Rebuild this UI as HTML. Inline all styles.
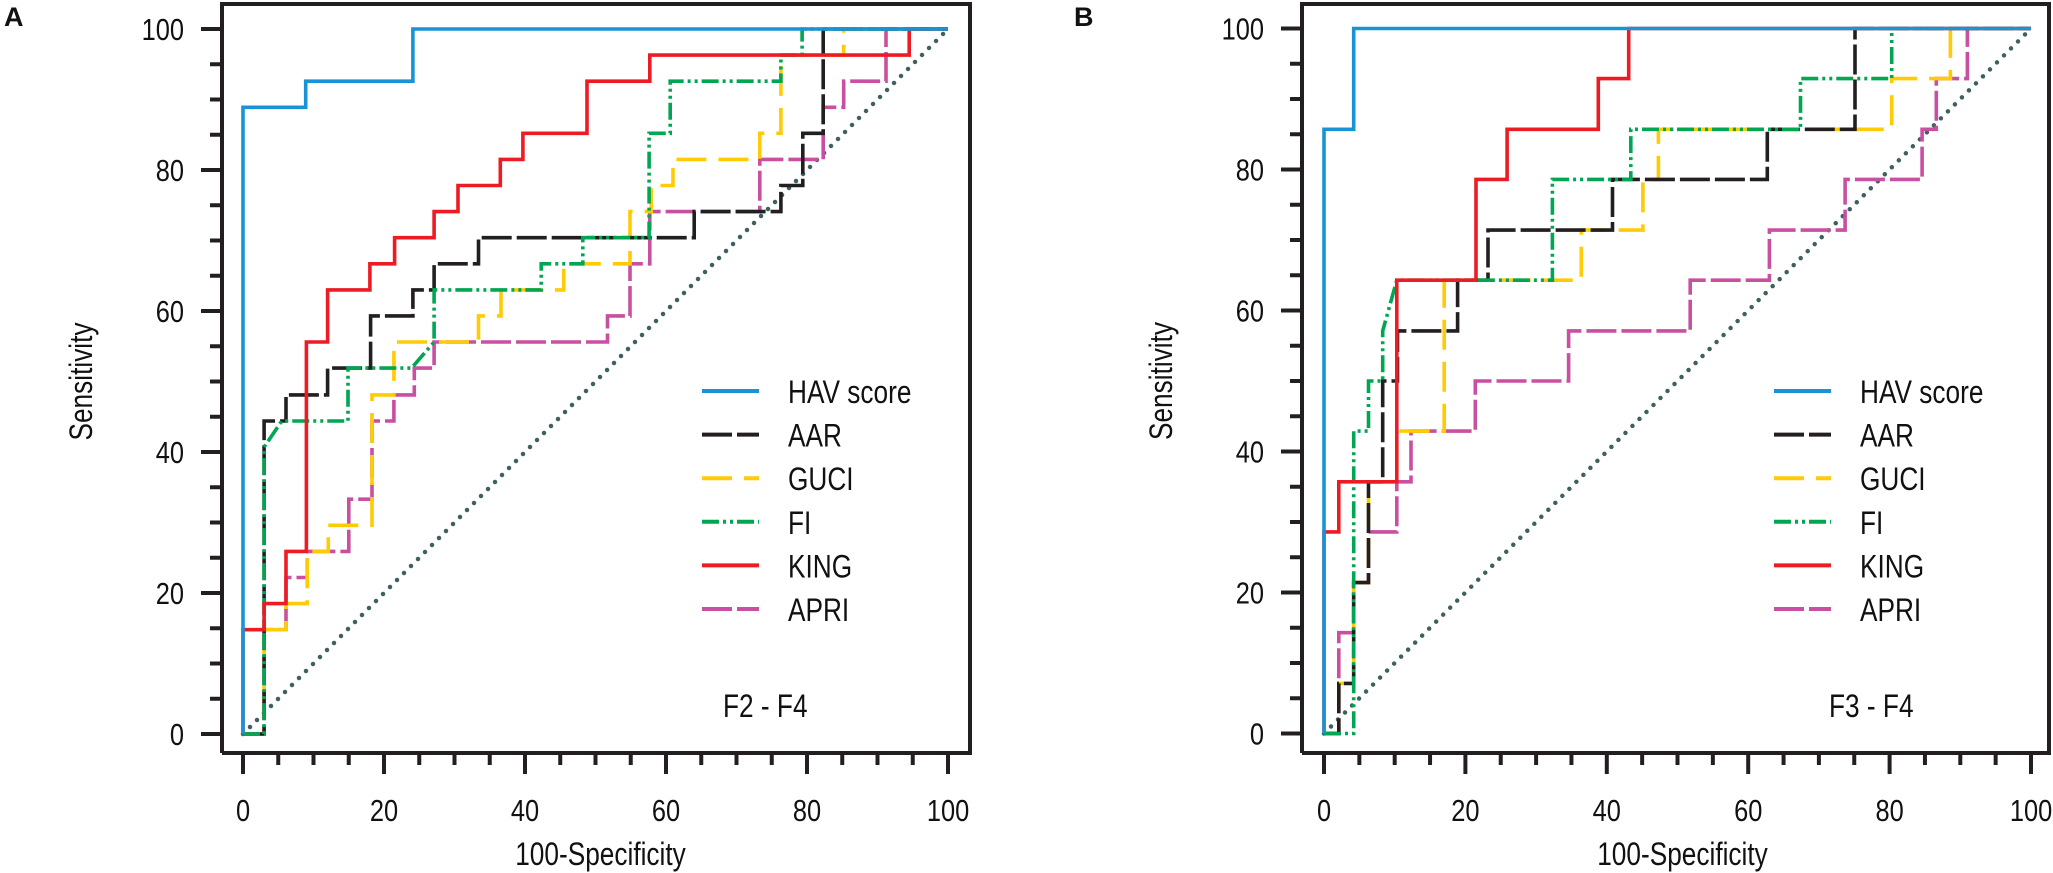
<!DOCTYPE html>
<html><head><meta charset="utf-8">
<style>
html,body{margin:0;padding:0;background:#fff;}
svg{display:block;}
text{font-family:"Liberation Sans",sans-serif;fill:#111;}
</style></head>
<body>
<svg id="chart" width="2053" height="873" viewBox="0 0 2053 873" xmlns="http://www.w3.org/2000/svg">
<g id="layer"></g>
</svg>
<script>
// ---- Panel A data (F2 - F4) ----
const havAx = [0,0,8.9,8.9,24.1,24.1,100];
const havAy = [0,88.9,88.9,92.6,92.6,100,100];
const aarAx = [0,3,3,6.1,6.1,12,12,18.1,18.1,24.1,24.1,27.1,27.1,33.4,33.4,64,64,76.3,76.3,79.4,79.4,82.3,82.3,100];
const aarAy = [0,0,44.4,44.4,48.1,48.1,51.9,51.9,59.3,59.3,63,63,66.7,66.7,70.4,70.4,74.1,74.1,77.8,77.8,85.2,85.2,100,100];
const guciAx = [0,3,3,6.1,6.1,9.1,9.1,12.1,12.1,18.3,18.3,21.4,21.4,33.4,33.4,36.6,36.6,45.5,45.5,54.9,54.9,57.9,57.9,61,61,73.3,73.3,76.3,76.3,85.2,85.2,100];
const guciAy = [0,0,14.8,14.8,18.5,18.5,25.9,25.9,29.6,29.6,48.1,48.1,55.6,55.6,59.3,59.3,63,63,66.7,66.7,74.1,74.1,77.8,77.8,81.5,81.5,85.2,85.2,96.3,96.3,100,100];
const fiAx = [0,3,3,5.5,14.9,14.9,23.9,27.1,27.1,42.3,42.3,48.2,48.2,57.6,57.6,60.6,60.6,76.3,76.3,79.3,79.3,100];
const fiAy = [0,0,40.7,44.4,44.4,51.9,51.9,55.6,63,63,66.7,66.7,70.4,70.4,85.2,85.2,92.6,92.6,96.3,96.3,100,100];
const kingAx = [0,0,3,3,6.1,6.1,9,9,12,12,18,18,21.5,21.5,27.1,27.1,30.5,30.5,36.5,36.5,39.7,39.7,48.8,48.8,57.7,57.7,94.5,94.5,100];
const kingAy = [0,14.8,14.8,18.5,18.5,25.9,25.9,55.6,55.6,63,63,66.7,66.7,70.4,70.4,74.1,74.1,77.8,77.8,81.5,81.5,85.2,85.2,92.6,92.6,96.3,96.3,100,100];
const apriAx = [0,3,3,6.1,6.1,9.1,9.1,15,15,18.3,18.3,21.4,21.4,24.3,24.3,27.1,27.1,51.7,51.7,54.9,54.9,57.7,57.7,73.3,73.3,82.3,82.3,85.2,85.2,91.2,91.2,100];
const apriAy = [0,0,14.8,14.8,22.2,22.2,25.9,25.9,33.3,33.3,44.4,44.4,48.1,48.1,51.9,51.9,55.6,55.6,59.3,59.3,66.7,66.7,74.1,74.1,81.5,81.5,88.9,88.9,92.6,92.6,100,100];
// ---- Panel B data (F3 - F4) ----
const havBx = [0,0,4.2,4.2,100];
const havBy = [0,85.7,85.7,100,100];
const aarBx = [0,2.1,2.1,4.2,4.2,6.3,6.3,8.3,8.3,10.4,10.4,18.9,18.9,23.2,23.2,40.8,40.8,62.7,62.7,75.1,75.1,100];
const aarBy = [0,0,7.1,7.1,21.4,21.4,35.7,35.7,50,50,57.1,57.1,64.3,64.3,71.4,71.4,78.6,78.6,85.7,85.7,100,100];
const guciBx = [0,2.1,2.1,4.2,4.2,6.3,6.3,10.3,10.3,17,17,36.4,36.4,45.1,45.1,47.3,47.3,80.3,80.3,88.6,88.6,100];
const guciBy = [0,0,7.1,7.1,21.4,21.4,35.7,35.7,42.9,42.9,64.3,64.3,71.4,71.4,78.6,78.6,85.7,85.7,92.9,92.9,100,100];
const fiBx = [0,4.2,4.2,6.3,6.3,8.3,8.3,10.3,32.3,32.3,43.4,43.4,67.4,67.4,80.3,80.3,100];
const fiBy = [0,0,42.9,42.9,50,50,57.1,64.3,64.3,78.6,78.6,85.7,85.7,92.9,92.9,100,100];
const kingBx = [0,0,2.1,2.1,10.3,10.3,21.5,21.5,25.9,25.9,38.8,38.8,43.1,43.1,100];
const kingBy = [0,28.6,28.6,35.7,35.7,64.3,64.3,78.6,78.6,85.7,85.7,92.9,92.9,100,100];
const apriBx = [0,2.1,2.1,4.2,4.2,6.3,6.3,10.3,10.3,12.3,12.3,21.4,21.4,34.6,34.6,51.8,51.8,63,63,73.7,73.7,84.6,84.6,86.6,86.6,91,91,100];
const apriBy = [0,0,14.3,14.3,21.4,21.4,28.6,28.6,35.7,35.7,42.9,42.9,50,50,57.1,57.1,64.3,64.3,71.4,71.4,78.6,78.6,85.7,85.7,92.9,92.9,100,100];

const tickValues = [0,20,40,60,80,100];
const legendNames = ["HAV score","AAR","GUCI","FI","KING","APRI"];

const NS = "http://www.w3.org/2000/svg";
const layer = document.getElementById('layer');
const SQ = 0.82;
function mk(tag, attrs, parent){
  const e = document.createElementNS(NS, tag);
  for (const k in attrs) e.setAttribute(k, attrs[k]);
  (parent||layer).appendChild(e);
  return e;
}
function txt(parent, x, y, str, size, anchor, rot){
  const t = mk('text', {x:0, y:0, 'font-size':size, 'text-anchor':anchor||'start',
    transform:`translate(${x},${y})${rot?' rotate(-90)':''} scale(${SQ},1)`}, parent);
  t.textContent = str;
  return t;
}
const styles = {
  "HAV score": {c:"#1a93d6", d:""},
  "AAR": {c:"#231f20", d:"30,5"},
  "GUCI": {c:"#ffcb05", d:"30,12"},
  "FI": {c:"#00a651", d:"17,4,3,4,3,4"},
  "KING": {c:"#ed1c24", d:""},
  "APRI": {c:"#c94fa0", d:"30,5"}
};

function panel(cfg){
  const g = mk('g', {});
  
  
  const sx = v => cfg.x0 + v * (cfg.x100 - cfg.x0) / 100;
  const sy = v => cfg.y0 - v * (cfg.y0 - cfg.y100) / 100;
  const fr = mk('path', {d:`M${cfg.axX},${cfg.axY} L${cfg.axX},${cfg.top} L${cfg.right},${cfg.top} L${cfg.right},${cfg.axY} L${cfg.axX},${cfg.axY}`, fill:'none', stroke:'#231f20', 'stroke-width':4}, g);
  
  
  for (let v=0; v<=100; v+=5){
    const major = v%20===0;
    const t = mk('line', {x1:cfg.axX-(major?21:12), x2:cfg.axX, y1:sy(v), y2:sy(v), stroke:'#231f20','stroke-width':4}, g);
    
    
  }
  tickValues.forEach(v=>{
    const t = txt(g, cfg.axX-38, sy(v)+11, String(v), 31, 'end');
    
    
  });
  for (let v=0; v<=100; v+=5){
    const major = v%20===0;
    const t = mk('line', {x1:sx(v), x2:sx(v), y1:cfg.axY, y2:cfg.axY+(major?21:12), stroke:'#231f20','stroke-width':4}, g);
    
    
  }
  tickValues.forEach(v=>{
    const t = txt(g, sx(v), 821, String(v), 31, 'middle');
    
    
  });
  const xt = txt(g, (sx(0)+sx(100))/2+5, 865, '100-Specificity', 32, 'middle');
  
  
  const yt = txt(g, cfg.axX-130, sy(50), 'Sensitivity', 32, 'middle', true);
  
  
  const pl = mk('text', {x:cfg.labelX, y:26, 'font-size':27, 'font-weight':'bold'}, g);
  pl.textContent = cfg.key;
  
  
  const dg = mk('line', {x1:sx(0), y1:sy(0), x2:sx(100), y2:sy(100), stroke:'#3f6060', 'stroke-width':4.5, 'stroke-linecap':'round', 'stroke-dasharray':'0 9.9'}, g);
  
  
  const order = ["APRI","GUCI","AAR","FI","KING","HAV score"];
  order.forEach(n=>{
    const s = cfg.series[n];
    let d = '';
    s.x.forEach((xv,i)=>{ d += (i?'L':'M') + sx(xv).toFixed(1) + ',' + sy(s.y[i]).toFixed(1); });
    const p = mk('path', {d:d, fill:'none', stroke:styles[n].c, 'stroke-width':3.6, 'stroke-dasharray':styles[n].d}, g);
    
    
  });
  legendNames.forEach((n,i)=>{
    const y = 391 + i*43.6;
    const l = mk('line', {x1:cfg.legX, x2:cfg.legX+57, y1:y, y2:y, stroke:styles[n].c, 'stroke-width':4, 'stroke-dasharray':styles[n].d}, g);
    
    
    const t = txt(g, cfg.legX+86, y+12, n, 32, 'start');
    
    
  });
  const st = txt(g, cfg.subX, 717, cfg.sub, 32, 'start');
  
  
}

panel({key:'A', x0:243, x100:948, y0:734, y100:29, axX:222, axY:753, top:4, right:970, labelX:4,
  legX:702, subX:723, sub:'F2 - F4',
  series:{"HAV score":{x:havAx,y:havAy},"AAR":{x:aarAx,y:aarAy},"GUCI":{x:guciAx,y:guciAy},"FI":{x:fiAx,y:fiAy},"KING":{x:kingAx,y:kingAy},"APRI":{x:apriAx,y:apriAy}}});
panel({key:'B', x0:1324, x100:2031, y0:733.5, y100:28.5, axX:1302, axY:753, top:4, right:2049, labelX:1074,
  legX:1774, subX:1829, sub:'F3 - F4',
  series:{"HAV score":{x:havBx,y:havBy},"AAR":{x:aarBx,y:aarBy},"GUCI":{x:guciBx,y:guciBy},"FI":{x:fiBx,y:fiBy},"KING":{x:kingBx,y:kingBy},"APRI":{x:apriBx,y:apriBy}}});
</script>
</body></html>
